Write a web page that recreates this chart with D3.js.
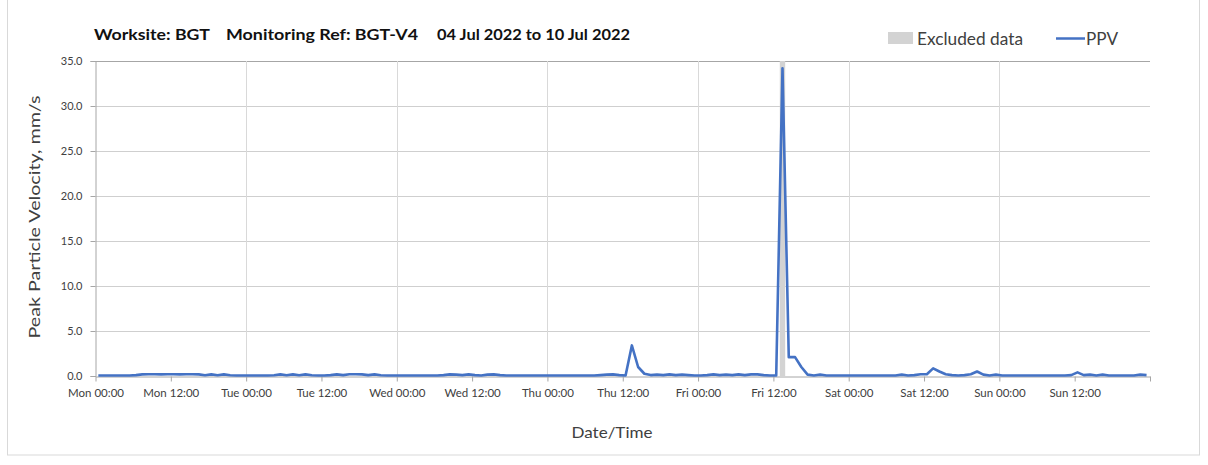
<!DOCTYPE html>
<html>
<head>
<meta charset="utf-8">
<script src="https://cdn.jsdelivr.net/npm/d3@7"></script>
<style>
  html, body { margin: 0; padding: 0; background: #fff; }
  svg { display: block; }
  text { font-family: Lato, "Open Sans", "DejaVu Sans", sans-serif; }
</style>
</head>
<body>
<svg id="chart" width="1208" height="465"></svg>
<script>
// ---- data ----
const titleParts = ["Worksite: BGT", "Monitoring Ref: BGT-V4", "04 Jul 2022 to 10 Jul 2022"];
const seriesName = "PPV";
const excludedName = "Excluded data";
const yLabel = "Peak Particle Velocity, mm/s";
const xLabel = "Date/Time";
const startTime = "2022-07-04T00:27:00";   // first hourly reading
const xTickLabels = ["Mon 00:00","Mon 12:00","Tue 00:00","Tue 12:00","Wed 00:00","Wed 12:00","Thu 00:00",
                     "Thu 12:00","Fri 00:00","Fri 12:00","Sat 00:00","Sat 12:00","Sun 00:00","Sun 12:00"];
const yTicks = [0, 5, 10, 15, 20, 25, 30, 35];
// hourly PPV readings (mm/s), Mon..Sun
const ppvMon = [0.05,0.05,0.05,0.05,0.05,0.05,0.1, 0.18,0.2,0.2,0.18,0.2,0.2,0.18,0.2,0.2,0.18, 0.08,0.18,0.08,0.18,0.08, 0.05,0.05];
const ppvTue = [0.05,0.05,0.05,0.05, 0.08,0.18,0.08,0.18,0.08,0.18,0.08, 0.05,0.05, 0.1,0.18,0.1,0.2,0.2,0.18,0.1,0.18,0.08, 0.05,0.05];
const ppvWed = [0.05,0.05,0.05,0.05,0.05,0.05,0.05, 0.1,0.18,0.15,0.1,0.18,0.1,0.05,0.15,0.18,0.1, 0.05,0.05,0.05,0.05,0.05,0.05,0.05];
const ppvThu = [0.05,0.05,0.05,0.05,0.05,0.05,0.05,0.05, 0.1,0.15,0.18,0.1, 0.05, 3.4, 1.0, 0.25, 0.1,0.15,0.1,0.18,0.1,0.15,0.1,0.05];
const ppvFri = [0.05, 0.1,0.18,0.1,0.15,0.1,0.18,0.1,0.18,0.18,0.1, 0.05, 0.05, 34.2, 2.1, 2.1, 1.0, 0.15, 0.05, 0.15, 0.05,0.05,0.05,0.05];
const ppvSat = [0.05,0.05,0.05,0.05,0.05,0.05,0.05,0.05, 0.15, 0.05,0.1,0.2, 0.2, 0.85, 0.5, 0.2, 0.1, 0.05, 0.1, 0.2, 0.5, 0.15, 0.05, 0.15];
const ppvSun = [0.05,0.05,0.05,0.05,0.05,0.05,0.05,0.05,0.05,0.05,0.05, 0.1, 0.4, 0.1, 0.15, 0.05, 0.15, 0.05, 0.05,0.05,0.05,0.05, 0.15, 0.1];
const excludedTimes = ["2022-07-08T13:27:00"];

// ---- build ----
const ppv = [].concat(ppvMon, ppvTue, ppvWed, ppvThu, ppvFri, ppvSat, ppvSun);
const parse = d3.timeParse("%Y-%m-%dT%H:%M:%S");
const t0 = parse(startTime);
const points = ppv.map((v, i) => ({ t: d3.timeHour.offset(t0, i), v }));
const excluded = excludedTimes.map(parse);

const svg = d3.select("#chart");

// outer frame
svg.append("rect").attr("x", 7.5).attr("y", -1).attr("width", 1192).attr("height", 456)
  .attr("fill", "#fff").attr("stroke", "#d9d9d9").attr("stroke-width", 1);

const domainStart = parse("2022-07-04T00:00:00");
const domainEnd = parse("2022-07-11T00:00:00");
const x = d3.scaleTime().domain([domainStart, domainEnd]).range([95.5, 1150]);
const y = d3.scaleLinear().domain([0, 35]).range([376, 61]);

// horizontal gridlines
svg.append("g").selectAll("line").data(yTicks.filter(d => d > 0)).join("line")
  .attr("x1", x.range()[0]).attr("x2", x.range()[1])
  .attr("y1", d => Math.round(y(d)) + 0.5).attr("y2", d => Math.round(y(d)) + 0.5)
  .attr("stroke", d => d === 35 ? "#a6a6a6" : "#cfcfcf").attr("stroke-width", 1);

// vertical gridlines at day boundaries
const tickTimes = xTickLabels.map((_, i) => d3.timeHour.offset(domainStart, 12 * i));
const dayTimes = tickTimes.filter((_, i) => i % 2 === 0 && i > 0);
svg.append("g").selectAll("line").data(dayTimes).join("line")
  .attr("x1", d => Math.round(x(d)) + 0.5).attr("x2", d => Math.round(x(d)) + 0.5)
  .attr("y1", 61).attr("y2", 376)
  .attr("stroke", "#d9d9d9").attr("stroke-width", 1);

// excluded data band
const hourW = x(d3.timeHour.offset(domainStart, 1)) - x(domainStart);
svg.append("g").selectAll("rect").data(excluded).join("rect")
  .attr("x", d => x(d) - hourW * 0.43).attr("width", hourW * 0.86)
  .attr("y", 61).attr("height", 376 - 61)
  .attr("fill", "#d3d3d3");

// y axis
const yAxis = d3.axisLeft(y).tickValues(yTicks).tickFormat(d3.format(".1f")).tickSize(5).tickPadding(8);
const gy = svg.append("g").attr("transform", "translate(95.5,0)").call(yAxis);
gy.select(".domain").attr("stroke", "#a6a6a6");
gy.selectAll(".tick line").attr("stroke", "#a6a6a6");
gy.selectAll(".tick text").attr("fill", "#404040").style("font-size", "11px");

// x axis
const xAxis = d3.axisBottom(x).tickValues(tickTimes.concat([domainEnd]))
  .tickFormat((d, i) => xTickLabels[i] || "").tickSize(5).tickPadding(7).tickSizeOuter(0);
const gx = svg.append("g").attr("transform", "translate(0,376.5)").call(xAxis);
gx.select(".domain").attr("stroke", "#a6a6a6");
gx.selectAll(".tick line").attr("stroke", "#a6a6a6");
gx.selectAll(".tick text").attr("fill", "#404040").style("font-size", "11.5px");

// PPV line
svg.append("path").datum(points)
  .attr("fill", "none").attr("stroke", "#4472C4").attr("stroke-width", 2.6)
  .attr("stroke-linejoin", "round")
  .attr("d", d3.line().x(d => x(d.t)).y(d => y(d.v)));

// title
const titleX = [94, 226, 437];
const titleW = [116, 192, 193];
svg.append("g").selectAll("text").data(titleParts).join("text")
  .attr("x", (d, i) => titleX[i]).attr("y", 40)
  .attr("font-weight", "bold").attr("font-size", "15.5px").attr("fill", "#111")
  .attr("textLength", (d, i) => titleW[i]).attr("lengthAdjust", "spacingAndGlyphs")
  .text(d => d);

// legend
svg.append("rect").attr("x", 888).attr("y", 32).attr("width", 25).attr("height", 12).attr("fill", "#d3d3d3");
svg.append("text").attr("x", 917).attr("y", 44.5).attr("font-size", "16.5px").attr("fill", "#404040")
  .attr("textLength", 106).attr("lengthAdjust", "spacingAndGlyphs").text(excludedName);
svg.append("line").attr("x1", 1056).attr("x2", 1085).attr("y1", 38.5).attr("y2", 38.5)
  .attr("stroke", "#4472C4").attr("stroke-width", 2.5);
svg.append("text").attr("x", 1086).attr("y", 44.5).attr("font-size", "16.5px").attr("fill", "#404040")
  .attr("textLength", 32).attr("lengthAdjust", "spacingAndGlyphs").text(seriesName);

// axis titles
svg.append("text").attr("transform", "translate(40,217) rotate(-90)")
  .attr("text-anchor", "middle").attr("font-size", "16px").attr("fill", "#404040")
  .attr("textLength", 243).attr("lengthAdjust", "spacingAndGlyphs").text(yLabel);
svg.append("text").attr("x", 612).attr("y", 438)
  .attr("text-anchor", "middle").attr("font-size", "16px").attr("fill", "#404040")
  .attr("textLength", 81).attr("lengthAdjust", "spacingAndGlyphs").text(xLabel);
</script>
</body>
</html>
